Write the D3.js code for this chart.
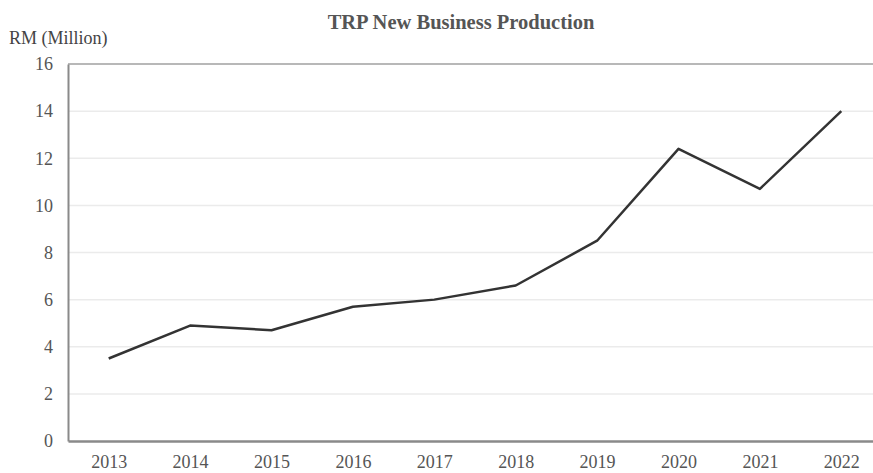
<!DOCTYPE html>
<html>
<head>
<meta charset="utf-8">
<script src="https://cdn.jsdelivr.net/npm/d3@7"></script>
<style>
  body { margin: 0; background: #fff; }
  svg text { font-family: "Liberation Serif", "DejaVu Serif", serif !important; }
</style>
</head>
<body>
<div id="chart"></div>
<script>
// data
const years = ['2013', '2014', '2015', '2016', '2017', '2018', '2019', '2020', '2021', '2022'];
const production = [3.5, 4.9, 4.7, 5.7, 6.0, 6.6, 8.5, 12.4, 10.7, 14.0];
const yTicks = [0, 2, 4, 6, 8, 10, 12, 14, 16];

const width = 873, height = 473;
const margin = { top: 64, left: 68, bottom: 32 };
// plot area runs past the right edge of the picture (reference is cropped)
const plotRight = 882;
const innerH = height - margin.top - margin.bottom;

const svg = d3.select('#chart').append('svg')
  .attr('width', width)
  .attr('height', height);

const x = d3.scalePoint()
  .domain(years)
  .range([margin.left, plotRight])
  .padding(0.5);

const y = d3.scaleLinear()
  .domain([0, 16])
  .range([margin.top + innerH, margin.top]);

// gridlines
svg.append('g')
  .selectAll('line')
  .data(yTicks.filter(d => d > 0 && d < 16))
  .enter()
  .append('line')
  .attr('x1', margin.left)
  .attr('x2', plotRight)
  .attr('y1', d => y(d))
  .attr('y2', d => y(d))
  .attr('stroke', '#ebebeb')
  .attr('stroke-width', 1.5);

// top frame line
svg.append('line')
  .attr('x1', margin.left).attr('x2', plotRight)
  .attr('y1', y(16)).attr('y2', y(16))
  .attr('stroke', '#a0a0a0').attr('stroke-width', 1.5);

// y axis
const yAxis = svg.append('g')
  .attr('transform', 'translate(' + margin.left + ',0)')
  .call(d3.axisLeft(y).tickValues(yTicks).tickSize(0).tickPadding(15));
yAxis.select('.domain').attr('stroke', '#8a8a8a').attr('stroke-width', 2);
yAxis.selectAll('text')
  .attr('fill', '#555')
  .style('font-size', '18px');

// x axis
const xAxis = svg.append('g')
  .attr('transform', 'translate(0,' + y(0) + ')')
  .call(d3.axisBottom(x).tickSize(0).tickPadding(14));
xAxis.select('.domain').attr('stroke', '#8a8a8a').attr('stroke-width', 2.5);
xAxis.selectAll('text')
  .attr('fill', '#555')
  .style('font-size', '18px');

// line
const line = d3.line()
  .x((d, i) => x(years[i]))
  .y(d => y(d));

svg.append('path')
  .datum(production)
  .attr('d', line)
  .attr('fill', 'none')
  .attr('stroke', '#333')
  .attr('stroke-width', 2.5)
  .attr('stroke-linejoin', 'round');

// title
svg.append('text')
  .attr('x', 461)
  .attr('y', 29)
  .attr('text-anchor', 'middle')
  .attr('fill', '#555')
  .style('font-size', '20.5px')
  .style('font-weight', 'bold')
  .text('TRP New Business Production');

// y label
svg.append('text')
  .attr('x', 9)
  .attr('y', 44)
  .attr('fill', '#444')
  .style('font-size', '18px')
  .text('RM (Million)');
</script>
</body>
</html>
